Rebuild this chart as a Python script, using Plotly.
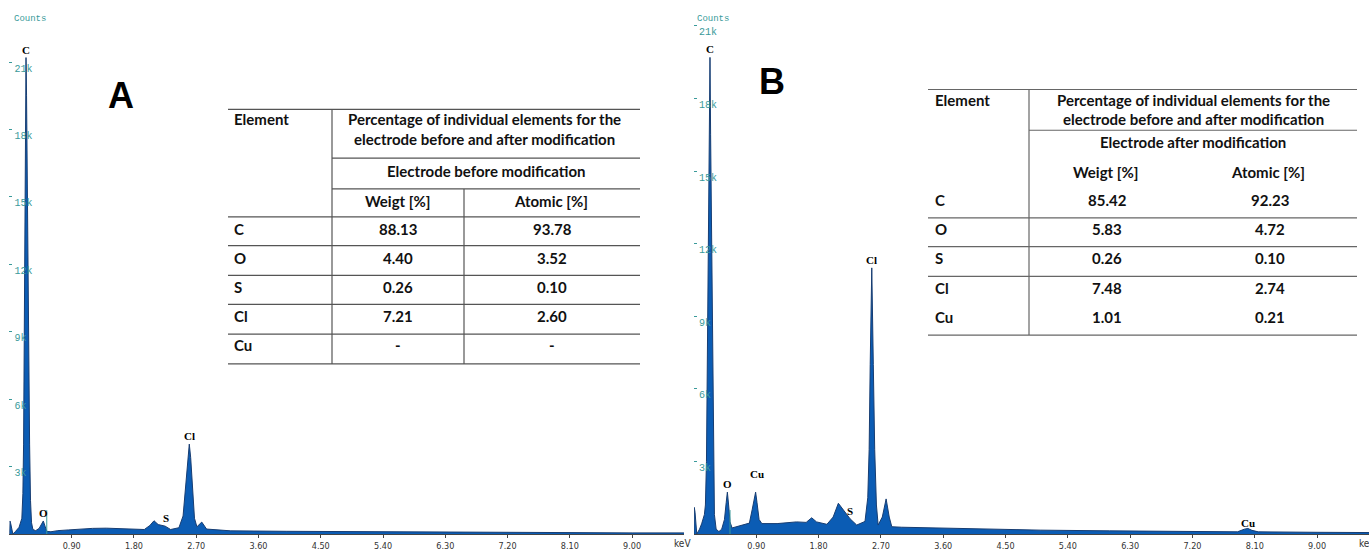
import plotly.graph_objects as go

# ---------------- data ----------------
energy_A = [0.000, 0.008, 0.020, 0.050, 0.090, 0.140, 0.180, 0.195, 0.205, 0.212, 0.221, 0.226, 0.232, 0.240,
            0.248, 0.256, 0.266, 0.280, 0.292, 0.305, 0.320, 0.340, 0.380, 0.430, 0.460, 0.490, 0.515, 0.540,
            0.600, 0.700, 0.850, 1.000, 1.200, 1.400, 1.600, 1.800, 1.950, 2.030, 2.090, 2.150, 2.200, 2.250,
            2.330, 2.450, 2.510, 2.550, 2.580, 2.600, 2.620, 2.645, 2.675, 2.710, 2.780, 2.850, 3.200, 4.000,
            5.000, 6.000, 7.000, 8.000, 9.000, 9.750]
counts_A = [0, 580, 450, 0, 120, 300, 700, 1800, 4000, 7500, 12000, 16500, 19500, 21200,
            19500, 16500, 12000, 7500, 4000, 1500, 500, 200, 150, 250, 450, 580, 350, 120,
            100, 150, 180, 220, 250, 260, 250, 240, 200, 380, 590, 420, 380, 350,
            200, 280, 800, 2200, 3500, 4000, 3400, 2000, 700, 320, 530, 220, 140, 120,
            100, 80, 70, 60, 50, 50]

energy_B = [0.000, 0.004, 0.015, 0.040, 0.080, 0.110, 0.150, 0.165, 0.180, 0.188, 0.200, 0.215, 0.225, 0.231,
            0.240, 0.250, 0.262, 0.272, 0.282, 0.295, 0.320, 0.360, 0.400, 0.440, 0.465, 0.482, 0.500, 0.520,
            0.550, 0.620, 0.720, 0.800, 0.840, 0.870, 0.890, 0.910, 0.940, 0.980, 1.200, 1.480, 1.620, 1.700,
            1.770, 1.920, 2.010, 2.085, 2.160, 2.254, 2.350, 2.470, 2.510, 2.530, 2.545, 2.568, 2.590, 2.610,
            2.635, 2.660, 2.720, 2.775, 2.820, 2.857, 3.000, 3.500, 4.000, 4.500, 5.000, 6.000, 7.000, 7.850,
            7.950, 8.000, 8.060, 8.150, 9.000, 9.750]
counts_B = [0, 1100, 900, 0, 200, 420, 800, 1200, 3000, 6000, 9000, 13000, 16500, 19700,
            16500, 13000, 9000, 6000, 3000, 800, 200, 100, 200, 600, 1300, 1730, 1200, 500,
            250, 300, 380, 450, 1000, 1550, 1730, 1300, 600, 430, 430, 500, 480, 670,
            500, 400, 700, 1270, 980, 630, 370, 520, 1500, 3500, 7000, 11000, 7000, 3500,
            1200, 370, 700, 1450, 700, 300, 280, 250, 220, 180, 160, 130, 100, 90,
            200, 230, 150, 90, 70, 60]

peak_labels_A = ["C", "O", "S", "Cl"]
peak_energy_A = [0.240, 0.490, 2.260, 2.600]
peak_counts_A = [21200, 580, 350, 4000]

peak_labels_B = ["C", "O", "Cu", "S", "Cl", "Cu"]
peak_energy_B = [0.231, 0.482, 0.905, 2.254, 2.568, 8.000]
peak_counts_B = [19700, 1730, 1730, 630, 11000, 230]

marker_energy = [0.54, 0.52]      # teal cursor lines (A, B)
marker_height = [1060, 990]

x_tickvals = [0.90, 1.80, 2.70, 3.60, 4.50, 5.40, 6.30, 7.20, 8.10, 9.00]
x_ticktext = ["0.90", "1.80", "2.70", "3.60", "4.50", "5.40", "6.30", "7.20", "8.10", "9.00"]
y_tickvals = [3000, 6000, 9000, 12000, 15000, 18000, 21000]
y_ticktext = ["3k", "6k", "9k", "12k", "15k", "18k", "21k"]

table_elements = ["C", "O", "S", "Cl", "Cu"]
weight_A = ["88.13", "4.40", "0.26", "7.21", "-"]
atomic_A = ["93.78", "3.52", "0.10", "2.60", "-"]
weight_B = ["85.42", "5.83", "0.26", "7.48", "1.01"]
atomic_B = ["92.23", "4.72", "0.10", "2.74", "0.21"]
header_element = "Element"
header_line1 = "Percentage of individual elements for the"
header_line2 = "electrode before and after modification"
sub_A = "Electrode before modification"
sub_B = "Electrode after modification"
col_weight = "Weigt [%]"
col_atomic = "Atomic [%]"

# ---------------- layout helpers ----------------
W, H, B = 1369, 551, 14
PH = H - B


def px(x):
    return x / W


def py(y):
    return (PH - y) / PH


FILL = "#0b5cb4"
EDGE = "#173d72"
TEAL = "#3a9a9a"
MONO = "Liberation Mono, DejaVu Sans Mono, monospace"
NARROW = "Liberation Sans Narrow, DejaVu Sans Condensed, Arial Narrow, sans-serif"
TABF = "Lato, Open Sans, sans-serif"

fig = go.Figure()
fig.add_trace(go.Scatter(x=energy_A, y=counts_A, mode="lines", fill="tozeroy",
                         fillcolor=FILL, line=dict(color=EDGE, width=1),
                         xaxis="x", yaxis="y", showlegend=False, hoverinfo="skip"))
fig.add_trace(go.Scatter(x=energy_B, y=counts_B, mode="lines", fill="tozeroy",
                         fillcolor=FILL, line=dict(color=EDGE, width=1),
                         xaxis="x2", yaxis="y2", showlegend=False, hoverinfo="skip"))

xa = dict(range=[0, 9.75], showgrid=False, zeroline=False, showline=True, linecolor="#444", linewidth=1,
          ticks="outside", ticklen=3, tickcolor="#444", tickvals=x_tickvals, ticktext=x_ticktext,
          tickfont=dict(family=NARROW, size=9, color="#333"))
ya = dict(showgrid=False, zeroline=False, showline=False, ticks="inside", ticklen=3, tickcolor=TEAL,
          tickvals=y_tickvals, ticktext=y_ticktext, ticklabelposition="inside", ticklabelshift=6,
          ticklabelstandoff=1,
          tickfont=dict(family=MONO, size=10, color=TEAL), domain=[0, 1])

fig.update_layout(
    width=W, height=H, margin=dict(l=0, r=0, t=0, b=B),
    plot_bgcolor="white", paper_bgcolor="white",
    xaxis=dict(xa, domain=[px(9.4), px(684)], anchor="y"),
    xaxis2=dict(xa, domain=[px(694), 1.0], anchor="y2"),
    yaxis=dict(ya, range=[0, PH / 22.6 * 1000], anchor="x"),
    yaxis2=dict(ya, range=[0, PH / 24.33 * 1000], anchor="x2"),
)

ann = []
shapes = []

# peak labels
for lab, e, c in zip(peak_labels_A, peak_energy_A, peak_counts_A):
    ann.append(dict(x=e, y=c, xref="x", yref="y", text="<b>%s</b>" % lab, showarrow=False,
                    yanchor="bottom", yshift=0,
                    font=dict(family="Liberation Serif, serif", size=11, color="black")))
for i, (lab, e, c) in enumerate(zip(peak_labels_B, peak_energy_B, peak_counts_B)):
    ys = 10 if i == 2 else (-3 if i == 5 else 0)
    ann.append(dict(x=e, y=c, xref="x2", yref="y2", text="<b>%s</b>" % lab, showarrow=False,
                    yanchor="bottom", yshift=ys,
                    font=dict(family="Liberation Serif, serif", size=11, color="black")))

# cursor lines
for (xr, yr), e, h in zip([("x", "y"), ("x2", "y2")], marker_energy, marker_height):
    shapes.append(dict(type="line", xref=xr, yref=yr, x0=e, x1=e, y0=0, y1=h,
                       line=dict(color=TEAL, width=1)))

# Counts labels, keV labels, panel letters
for xpx in (12, 695):
    ann.append(dict(x=px(xpx), y=py(19), xref="paper", yref="paper", text="Counts", showarrow=False,
                    xanchor="left", yanchor="middle", font=dict(family=MONO, size=9, color=TEAL)))
for xr in ("x domain", "x2 domain"):
    ann.append(dict(x=1, y=py(547), xref=xr, yref="paper", text="keV", showarrow=False,
                    xanchor="center", yanchor="middle", xshift=-2,
                    font=dict(family=NARROW, size=10, color="#333")))
ann.append(dict(x=px(106), y=py(73), xref="paper", yref="paper", text="<b>A</b>", showarrow=False,
                font=dict(family="Liberation Sans, Arial, sans-serif", size=36, color="black")))
ann.append(dict(x=px(772), y=py(59), xref="paper", yref="paper", text="<b>B</b>", showarrow=False,
                font=dict(family="Liberation Sans, Arial, sans-serif", size=36, color="black")))


def hline(x0, x1, y, col="#555"):
    shapes.append(dict(type="line", xref="paper", yref="paper", x0=px(x0), x1=px(x1), y0=py(y), y1=py(y),
                       line=dict(color=col, width=1.2)))


def vline(x, y0, y1, col="#555"):
    shapes.append(dict(type="line", xref="paper", yref="paper", x0=px(x), x1=px(x), y0=py(y0), y1=py(y1),
                       line=dict(color=col, width=1.2)))


def txt(x, y, s, anchor="center"):
    ann.append(dict(x=px(x), y=py(y), xref="paper", yref="paper", text=s, showarrow=False,
                    xanchor=anchor, yanchor="middle",
                    font=dict(family=TABF, size=15, color="#111", weight=700)))


# ---- table A ----
L, R, D1, D2 = 228, 640, 332, 464
hline(L, R, 110)
hline(D1, R, 159)
hline(D1, R, 190)
for y in (218, 247, 277, 306, 336, 366):
    hline(L, R, y)
vline(D1, 110, 366)
vline(D2, 190, 366)
txt(232, 120, header_element, "left")
txt(485, 120, header_line1)
txt(485, 140, header_line2)
txt(486, 172, sub_A)
txt(398, 202, col_weight)
txt(551, 202, col_atomic)
for i, (el, w, a) in enumerate(zip(table_elements, weight_A, atomic_A)):
    y = 230 + i * 29.3
    txt(232, y, el, "left")
    txt(398, y, w)
    txt(552, y, a)

# ---- table B ----
L, R, D1 = 928, 1357, 1029
hline(L, R, 90, "#666")
hline(D1, R, 131, "#666")
for y in (219, 248, 278, 337):
    hline(L, R, y, "#666")
vline(D1, 90, 337, "#666")
txt(933, 101, header_element, "left")
txt(1193, 101, header_line1)
txt(1193, 120, header_line2)
txt(1193, 143, sub_B)
txt(1106, 173, col_weight)
txt(1268, 173, col_atomic)
for i, (el, w, a) in enumerate(zip(table_elements, weight_B, atomic_B)):
    y = 201 + i * 29.4
    txt(933, y, el, "left")
    txt(1107, y, w)
    txt(1270, y, a)

fig.update_layout(annotations=ann, shapes=shapes)
fig.write_html("out.html")
